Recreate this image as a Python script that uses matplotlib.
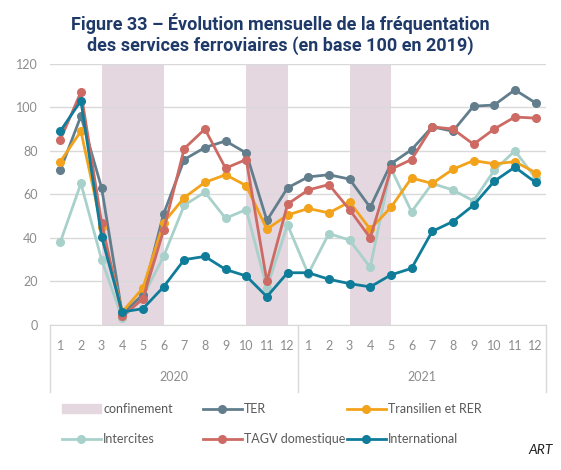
import numpy as np
import matplotlib
matplotlib.use("Agg")
import matplotlib.pyplot as plt
import matplotlib.transforms as mtransforms
from matplotlib.patches import Patch
from matplotlib.lines import Line2D

plt.rcParams['font.family'] = ['Lato', 'DejaVu Sans']

# data (base 100 = 2019)
months = [str(m) for m in range(1, 13)] * 2
years = ["2020", "2021"]

ter = [71, 96, 63, 5, 14, 51, 76, 81.5, 84.5, 79, 48, 63,
       68, 69, 67, 54, 74, 80.5, 91, 89, 100.5, 101, 108, 102]
transilien = [75, 89, 45, 6, 17, 47, 58.5, 65.5, 69, 64, 44, 50.5,
              53.5, 51.5, 56.5, 44, 54, 67.5, 65, 71.5, 75.5, 74, 75, 70]
intercites = [38, 65, 30, 3, 13, 31.5, 55, 61, 49, 53, 17, 46,
              23.5, 42, 39, 26.5, 72, 52, 65, 62, 57, 71, 80, 67.5]
tagv = [85, 107, 47, 4, 12, 43.5, 81, 90, 72, 76, 20, 55.5,
        62, 64.5, 53, 40, 71.5, 76, 91, 90, 83, 90, 95.5, 95]
international = [89, 103, 40.5, 6, 7.5, 17.5, 30, 31.5, 25.5, 22.5, 13, 24,
                 24, 21, 19, 17.5, 23, 26, 43, 47.5, 55, 66, 72.5, 65.5]

# confinement periods (start, end index on the month axis)
confinements = [(2, 5), (9, 11), (14, 16)]

c_ter = "#627E8D"
c_tra = "#F2A31B"
c_int = "#A9D1CB"
c_tagv = "#CD6A64"
c_intl = "#0F7C9A"
c_band = "#E4D7E0"
grey = "#8C8C8C"

fig = plt.figure(figsize=(5.61, 4.70), dpi=100)
ax = fig.add_axes([0.089, 0.3085, 0.884, 0.556])

x = np.arange(len(months))

for a, b in confinements:
    ax.axvspan(a, b, color=c_band, lw=0, zorder=0)

ax.set_ylim(0, 120)
ax.set_xlim(-0.5, len(months) - 0.5)
ax.set_yticks(range(0, 121, 20))
ax.yaxis.grid(True, color="#D9D9D9", lw=1)
ax.set_axisbelow(True)

kw = dict(marker="o", ms=5.5, lw=2, zorder=3)
ax.plot(x, intercites, color=c_int, **kw)
ax.plot(x, ter, color=c_ter, **kw)
ax.plot(x, transilien, color=c_tra, **kw)
ax.plot(x, tagv, color=c_tagv, **kw)
ax.plot(x, international, color=c_intl, **kw)

for s in ["top", "right", "left"]:
    ax.spines[s].set_visible(False)
ax.spines["bottom"].set_color("#D9D9D9")
ax.tick_params(axis="both", length=0, colors=grey, labelsize=9)
ax.tick_params(axis="x", pad=11)
ax.tick_params(axis="y", pad=9)
ax.set_xticks(x)
ax.set_xticklabels(months)

# year labels and separators under the axis
tr = mtransforms.blended_transform_factory(ax.transData, ax.transAxes)
for i, yr in enumerate(years):
    ax.text(i * 12 + 5.5, -0.2, yr, transform=tr, ha="center", va="center",
            color=grey, fontsize=9)
for sx in [-0.5, 11.5, 23.5]:
    ax.plot([sx, sx], [0, -0.255], transform=tr, color="#D9D9D9", lw=1,
            clip_on=False)

fig.text(0.5, 0.928, "Figure 33 – Évolution mensuelle de la fréquentation\n"
         "des services ferroviaires (en base 100 en 2019)",
         ha="center", va="center", fontsize=13, fontweight="bold",
         family=["Roboto", "DejaVu Sans"], color="#1F3A68", linespacing=1.12)

# legend, three columns placed like the original
lk = dict(marker="o", ms=5.5, lw=2)
cols = [
    ([Patch(color=c_band, label="confinement"),
      Line2D([], [], color=c_int, label="Intercites", **lk)], 62),
    ([Line2D([], [], color=c_ter, label="TER", **lk),
      Line2D([], [], color=c_tagv, label="TAGV domestique", **lk)], 203),
    ([Line2D([], [], color=c_tra, label="Transilien et RER", **lk),
      Line2D([], [], color=c_intl, label="International", **lk)], 347),
]
for hs, px in cols:
    leg = fig.legend(handles=hs, loc="upper left",
                     bbox_to_anchor=(px / 561, 1 - 403 / 470),
                     frameon=False, fontsize=9, handlelength=3.1,
                     handletextpad=0.2, labelspacing=1.45, borderpad=0,
                     borderaxespad=0)
    for t in leg.get_texts():
        t.set_color("#595959")

fig.text(0.985, 0.03, "ART", ha="right", va="bottom", fontsize=10,
         style="italic", color="#222222")

fig.savefig("out.png", dpi=100)
